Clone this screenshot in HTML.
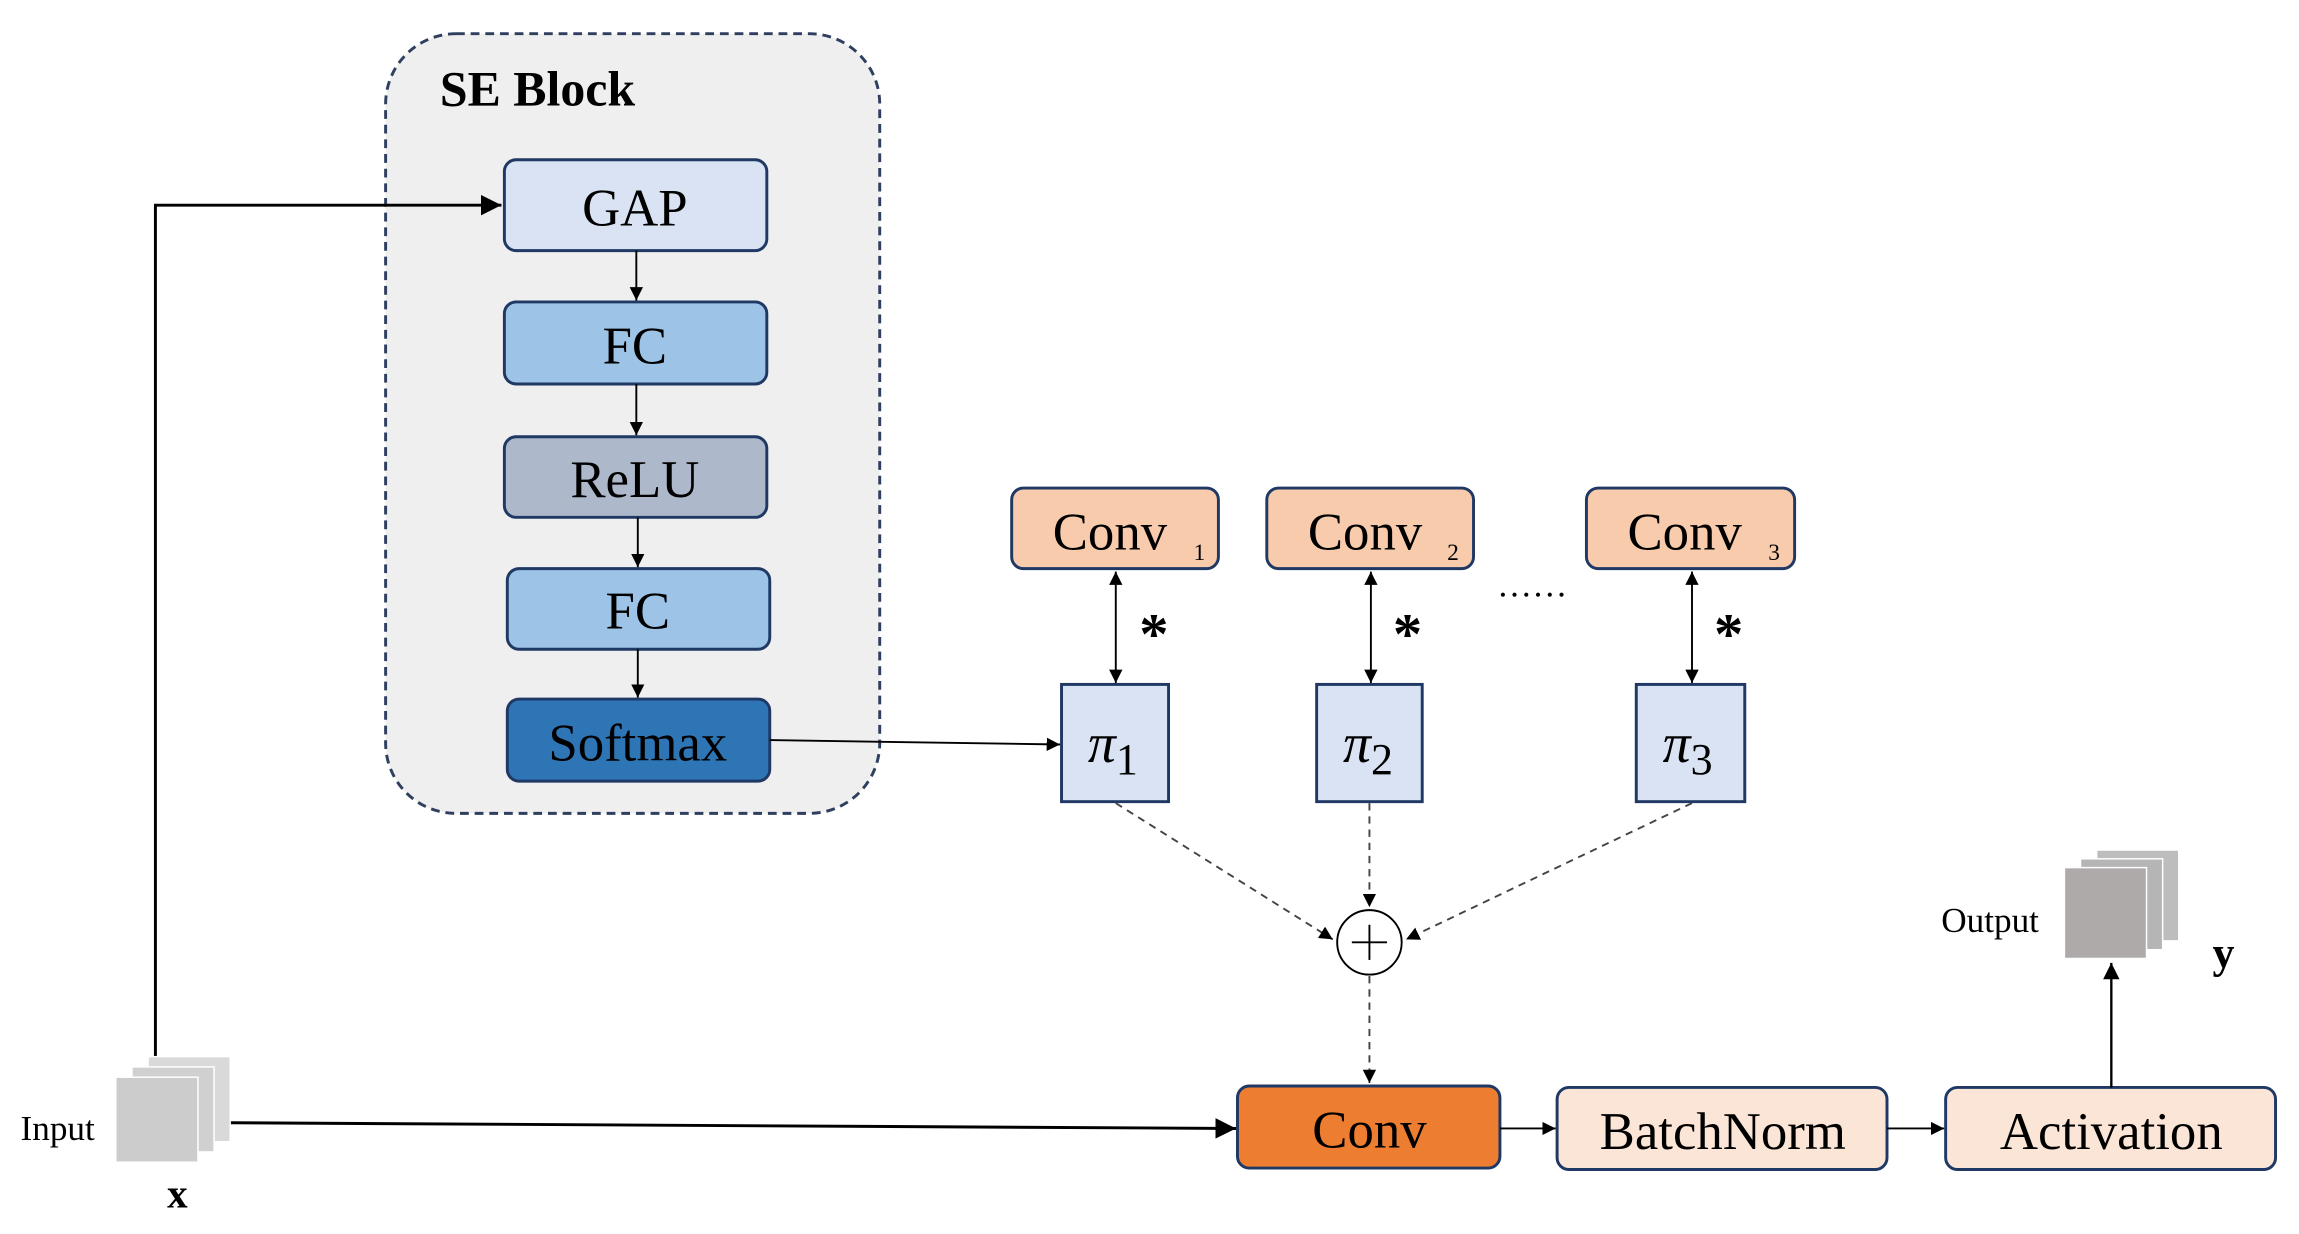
<!DOCTYPE html>
<html><head><meta charset="utf-8"><style>html,body{margin:0;padding:0;background:#fff}svg{display:block}</style></head>
<body>
<svg width="2299" height="1234" viewBox="0 0 1568 842" preserveAspectRatio="none" xmlns="http://www.w3.org/2000/svg" font-family="'Liberation Serif', serif">
<defs>
<marker id="a" viewBox="0 0 10 10" refX="10" refY="5" markerWidth="7" markerHeight="7" orient="auto-start-reverse"><path d="M0,0L10,5L0,10z" fill="#000"/></marker>
<marker id="b" viewBox="0 0 10 10" refX="10" refY="5" markerWidth="7" markerHeight="7" orient="auto"><path d="M0,0L10,5L0,10z" fill="#000"/></marker>
</defs>
<rect x="263" y="23" width="337" height="532" rx="48" fill="#efefef" stroke="#2f3f5f" stroke-width="2" stroke-dasharray="6,4"/>
<text x="300" y="72" font-size="34" font-weight="bold">SE Block</text>
<g stroke="#1f3864" stroke-width="2">
<rect x="344" y="109" width="179" height="62" rx="8" fill="#dae3f3"/>
<rect x="344" y="206" width="179" height="56" rx="8" fill="#9dc3e6"/>
<rect x="344" y="298" width="179" height="55" rx="8" fill="#adb9ca"/>
<rect x="346" y="388" width="179" height="55" rx="8" fill="#9dc3e6"/>
<rect x="346" y="477" width="179" height="56" rx="8" fill="#2e75b6"/>
<rect x="690" y="333" width="141" height="55" rx="8" fill="#f8cbad"/>
<rect x="864" y="333" width="141" height="55" rx="8" fill="#f8cbad"/>
<rect x="1082" y="333" width="142" height="55" rx="8" fill="#f8cbad"/>
<rect x="724" y="467" width="73" height="80" fill="#dae3f3"/>
<rect x="898" y="467" width="72" height="80" fill="#dae3f3"/>
<rect x="1116" y="467" width="74" height="80" fill="#dae3f3"/>
<rect x="844" y="741" width="179" height="56" rx="8" fill="#ed7d31"/>
<rect x="1062" y="742" width="225" height="56" rx="8" fill="#fbe5d6"/>
<rect x="1327" y="742" width="225" height="56" rx="8" fill="#fbe5d6"/>
</g>
<g font-size="36" text-anchor="middle">
<text x="433" y="154">GAP</text>
<text x="433" y="248">FC</text>
<text x="433" y="339">ReLU</text>
<text x="435" y="429">FC</text>
<text x="435" y="519">Softmax</text>
<text x="934" y="783">Conv</text>
<text x="1175" y="784">BatchNorm</text>
<text x="1440" y="784">Activation</text>
</g>
<g font-size="36">
<text x="718" y="375">Conv</text><text x="814" y="382" font-size="16">1</text>
<text x="892" y="375">Conv</text><text x="987" y="382" font-size="16">2</text>
<text x="1110" y="375">Conv</text><text x="1206" y="382" font-size="16">3</text>
</g>
<g font-size="38" font-style="italic">
<text x="742" y="520">π<tspan font-style="normal" font-size="30" dy="8">1</tspan></text>
<text x="916" y="520">π<tspan font-style="normal" font-size="30" dy="8">2</tspan></text>
<text x="1134" y="520">π<tspan font-style="normal" font-size="30" dy="8">3</tspan></text>
</g>
<g font-size="40" font-weight="bold">
<text x="777" y="446">*</text><text x="950" y="446">*</text><text x="1169" y="446">*</text>
</g>
<text x="1022" y="407" font-size="24" letter-spacing="2">......</text>
<g stroke="#000" stroke-width="1.3" fill="none">
<line x1="434" y1="171" x2="434" y2="205" marker-end="url(#a)"/>
<line x1="434" y1="262" x2="434" y2="297" marker-end="url(#a)"/>
<line x1="435" y1="353" x2="435" y2="387" marker-end="url(#a)"/>
<line x1="435" y1="443" x2="435" y2="476" marker-end="url(#a)"/>
<line x1="525" y1="505" x2="723" y2="508" marker-end="url(#a)"/>
<line x1="761" y1="390" x2="761" y2="466" marker-start="url(#a)" marker-end="url(#a)"/>
<line x1="935" y1="390" x2="935" y2="466" marker-start="url(#a)" marker-end="url(#a)"/>
<line x1="1154" y1="390" x2="1154" y2="466" marker-start="url(#a)" marker-end="url(#a)"/>
<g stroke-dasharray="5,4" stroke="#444">
<line x1="761" y1="548" x2="909" y2="641" marker-end="url(#a)"/>
<line x1="934" y1="548" x2="934" y2="619" marker-end="url(#a)"/>
<line x1="1154" y1="548" x2="959" y2="641" marker-end="url(#a)"/>
<line x1="934" y1="666" x2="934" y2="739" marker-end="url(#a)"/>
</g>
<circle cx="934" cy="643" r="22" fill="#fff"/>
<line x1="922" y1="643" x2="946" y2="643"/><line x1="934" y1="631" x2="934" y2="655"/>
<line x1="1023" y1="770" x2="1061" y2="770" marker-end="url(#a)"/>
<line x1="1287" y1="770" x2="1326" y2="770" marker-end="url(#a)"/>
<line x1="1440" y1="742" x2="1440" y2="657" stroke-width="1.6" marker-end="url(#b)"/>
<polyline points="106,735 106,140 342,140" stroke-width="2" marker-end="url(#b)"/>
<line x1="140" y1="766" x2="843" y2="770" stroke-width="2" marker-end="url(#b)"/>
</g>
<rect x="101" y="721" width="56" height="58" fill="#d9d9d9" stroke="#fff"/>
<rect x="90" y="728" width="56" height="58" fill="#d0d0d0" stroke="#fff"/>
<rect x="79" y="735" width="56" height="58" fill="#cccccc" stroke="#fff"/>
<rect x="1430" y="580" width="56" height="62" fill="#bdbdbd" stroke="#fff"/>
<rect x="1419" y="586" width="56" height="62" fill="#b5b5b5" stroke="#fff"/>
<rect x="1408" y="592" width="56" height="62" fill="#aeaaaa" stroke="#fff"/>
<text x="14" y="778" font-size="24">Input</text>
<text x="114" y="824" font-size="28" font-weight="bold">x</text>
<text x="1324" y="636" font-size="24">Output</text>
<text x="1509" y="660" font-size="30" font-weight="bold">y</text>
</svg>
</body></html>
